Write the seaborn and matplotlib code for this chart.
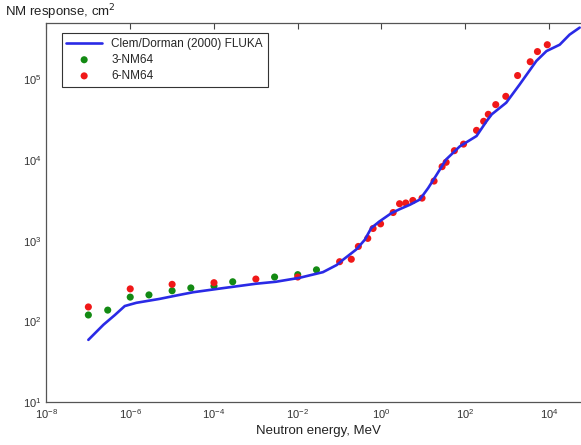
"""NM64 neutron monitor response vs neutron energy."""
import matplotlib
matplotlib.use("Agg")
import matplotlib.pyplot as plt
import numpy as np
import pandas as pd
import seaborn as sns
from matplotlib.ticker import LogLocator, NullFormatter

# Clem/Dorman (2000) FLUKA curve
fluka_energy = [1e-7, 2.3e-7, 4.3e-7, 7.4e-7, 1.4e-6, 5e-6, 1.3e-5, 3.2e-5,
                1.6e-4, 1e-3, 3e-3, 1.1e-2, 4e-2, 8.5e-2, 0.12, 0.25, 0.40,
                0.57, 0.9, 1.7, 2.7, 4.8, 8.2, 13, 20, 35, 74, 186, 320, 430,
                950, 2000, 5000, 8700, 18000, 31000, 54000]
fluka_response = [59, 91, 120, 155, 170, 190, 210, 230, 258, 293, 310, 347,
                  408, 500, 580, 780, 1030, 1440, 1740, 2190, 2460, 2800,
                  3240, 4500, 6400, 10200, 14800, 19900, 30200, 37000, 51500,
                  87000, 170000, 225000, 270000, 360000, 440000]

# 3-NM64 points
nm3_energy = [1e-7, 2.9e-7, 1e-6, 2.8e-6, 1e-5, 2.8e-5, 1e-4, 2.8e-4,
              2.8e-3, 1e-2, 2.8e-2]
nm3_response = [120, 138, 200, 213, 240, 260, 275, 310, 355, 380, 436]

# 6-NM64 points
nm6_energy = [1e-7, 1e-6, 1e-5, 1e-4, 1e-3, 1e-2, 0.1, 0.19, 0.28, 0.47,
              0.63, 0.95, 1.9, 2.7, 3.8, 5.6, 9.3, 18, 28, 35, 55, 91, 186,
              275, 355, 535, 930, 1780, 3560, 5300, 9100]
nm6_response = [151, 253, 288, 302, 335, 355, 550, 590, 850, 1070, 1420,
                1620, 2240, 2880, 2940, 3160, 3380, 5500, 8300, 9400, 13100,
                15800, 23400, 30300, 37000, 48800, 61800, 112000, 166000,
                222000, 270000]

x_ticks = [1e-8, 1e-6, 1e-4, 1e-2, 1e0, 1e2, 1e4]

sns.set_style("white")
plt.rcParams["font.family"] = ["Liberation Sans", "DejaVu Sans"]

fig = plt.figure(figsize=(5.81, 4.45), dpi=100)
ax = fig.add_axes([0.080, 0.0966, 0.937, 0.8514])

sns.lineplot(x=fluka_energy, y=fluka_response, ax=ax, color="#2a2ae6",
             linewidth=1.9, label="Clem/Dorman (2000) FLUKA", sort=False)
sns.scatterplot(x=nm3_energy, y=nm3_response, ax=ax, color="#138a13",
                s=26, edgecolor="none", label="3-NM64")
sns.scatterplot(x=nm6_energy, y=nm6_response, ax=ax, color="#f01818",
                s=26, edgecolor="none", label="6-NM64")

ax.set_xscale("log")
ax.set_yscale("log")
ax.set_xlim(1e-8, 1e5)
ax.set_ylim(10, 5e5)
ax.set_xticks(x_ticks)
ax.xaxis.set_minor_locator(plt.NullLocator())
ax.yaxis.set_major_locator(LogLocator(base=10))
ax.yaxis.set_minor_locator(LogLocator(base=10, subs=np.arange(2, 10)))
ax.yaxis.set_minor_formatter(NullFormatter())

ax.tick_params(which="both", direction="in", top=True, right=True,
               colors="#444444", labelsize=8, labelcolor="#333333")
ax.tick_params(which="major", length=4, width=0.8)
ax.tick_params(which="minor", length=2, width=0.6)
for sp in ax.spines.values():
    sp.set_color("#555555")
    sp.set_linewidth(0.9)

ax.set_xlabel("Neutron energy, MeV", fontsize=9.5, color="#222222",
              labelpad=3)
ax.set_ylabel("")
fig.text(0.008, 0.972, "NM response, cm$^2$", fontsize=9.5,
         color="#222222", va="center", ha="left")

leg = ax.legend(loc="upper left", bbox_to_anchor=(0.028, 0.974),
                borderaxespad=0, fontsize=8.5, handlelength=3.0,
                frameon=True, fancybox=False, edgecolor="#333333",
                framealpha=1, borderpad=0.4, labelspacing=0.35)
leg.get_frame().set_linewidth(0.8)

fig.savefig("out.png", dpi=100)
